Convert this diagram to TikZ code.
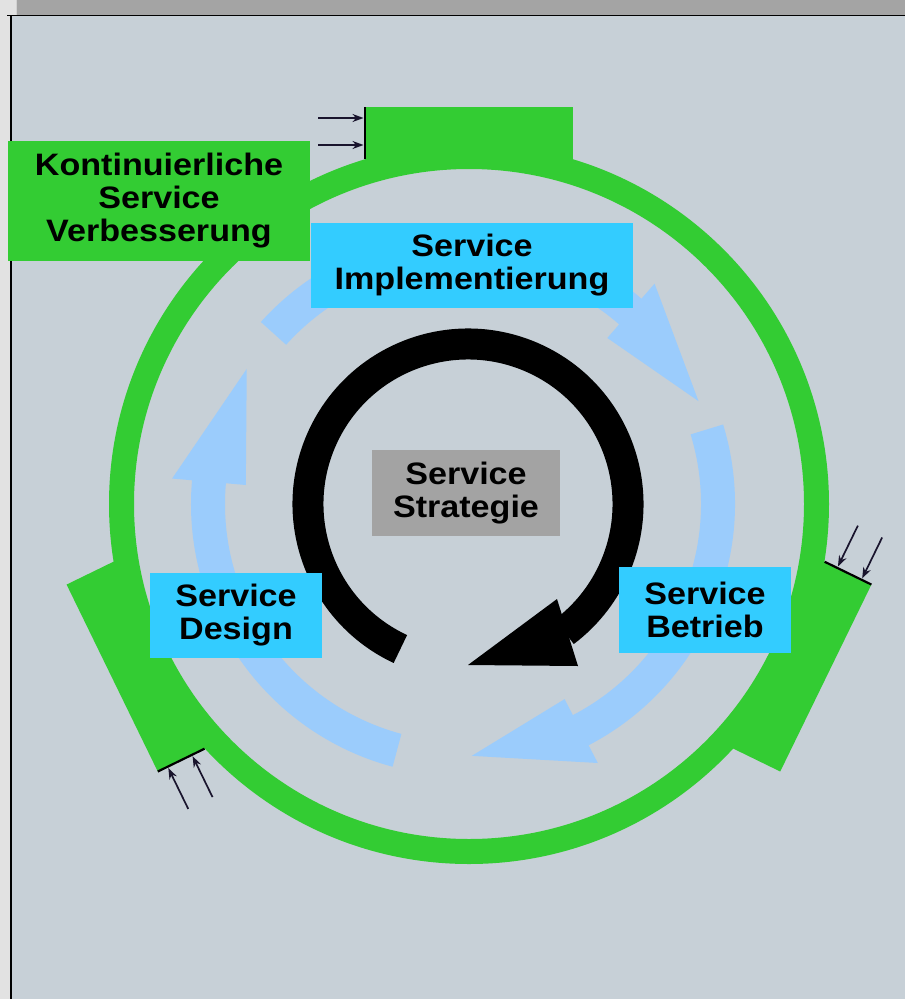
\documentclass[tikz,border=0pt]{standalone}
\usepackage{fontspec}
\setmainfont{Liberation Sans}
\newfontfamily\lbl[FakeStretch=1.1]{Liberation Sans}
\usetikzlibrary{arrows.meta}
\definecolor{bg}{RGB}{199,208,215}
\definecolor{grn}{RGB}{51,204,51}
\definecolor{cyn}{RGB}{51,204,255}
\definecolor{lblue}{RGB}{155,204,252}
\definecolor{strat}{RGB}{163,163,163}
\definecolor{strip}{RGB}{164,164,164}
\definecolor{side}{RGB}{226,226,226}
\definecolor{pinc}{RGB}{25,20,45}
\newcommand\greenseg[1]{%
  \begin{scope}[shift={(469,-504)},rotate=#1]
    \fill[grn] (-104,397) rectangle (104,339);
    \draw[line width=2.2pt] (-104,397) -- (-104,345);
    \draw[pin] (-151,386) -- (-105.5,386);
    \draw[pin] (-151,359) -- (-105.5,359);
  \end{scope}}
\begin{document}
\begin{tikzpicture}[x=1pt,y=1pt,
  lab/.style={font=\lbl\bfseries\fontsize{31}{33}\selectfont, align=center, inner sep=0pt, text=black},
  cbox/.style={lab, fill=cyn},
  pin/.style={-{Stealth[length=11pt,width=8pt]}, line width=1.7pt, draw=pinc, fill=pinc},
]
\useasboundingbox (0,0) rectangle (905,-999);
% window background
\fill[bg] (0,0) rectangle (905,-999);
\fill[side] (0,0) rectangle (11,-999);
\fill[side] (0,0) rectangle (17,-15);
\fill[strip] (17,0) rectangle (905,-15);
\draw[line width=0.8pt, draw={rgb,255:red,210;green,210;blue,210}] (16.5,0) -- (16.5,-15);
\draw[line width=1.6pt] (7,-15.5) -- (905,-15.5);
\draw[line width=1.6pt] (11,-15.5) -- (11,-999);
% green ring with segments
\draw[grn, line width=25pt] (469,-504) circle[radius=347.5];
\greenseg{0}
\greenseg{-116}
\greenseg{116}
% light blue arrows
\begin{scope}[shift={(463,-504)}]
  \fill[lblue] (138:272) arc[start angle=138,end angle=49,radius=272] -- (49:292) -- (23.6:257) -- (49:220) -- (49:238) arc[start angle=49,end angle=138,radius=238] -- cycle;
  \fill[lblue] (17:272) arc[start angle=17,end angle=-62.5,radius=272] -- (-62.5:292) -- (-88:252) -- (-62.5:220) -- (-62.5:238) arc[start angle=-62.5,end angle=17,radius=238] -- cycle;
  \fill[lblue] (255:272) arc[start angle=255,end angle=175,radius=272] -- (175:292) -- (148:255) -- (175:218) -- (175:238) arc[start angle=175,end angle=255,radius=238] -- cycle;
\end{scope}
% black cycle arrow
\begin{scope}[shift={(468,-504)}]
  \draw[line width=31pt] (245:160) arc[start angle=245,end angle=-53,radius=160];
\end{scope}
\fill (557,-599) -- (578,-666) -- (468,-665) -- cycle;
% labels
\node[lab, fill=grn, minimum width=302pt, minimum height=120pt] (kvs) at (159,-201) {Kontinuierliche\\Service\\Verbesserung};
\node[cbox, minimum width=322pt, minimum height=85pt] (impl) at (472,-265.5) {Service\\Implementierung};
\node[lab, fill=strat, minimum width=188pt, minimum height=86pt] (strat) at (466,-493) {Service\\Strategie};
\node[cbox, minimum width=172pt, minimum height=85pt] (design) at (236,-615.5) {Service\\Design};
\node[cbox, minimum width=172pt, minimum height=86pt] (betr) at (705,-610) {Service\\Betrieb};
\end{tikzpicture}
\end{document}
